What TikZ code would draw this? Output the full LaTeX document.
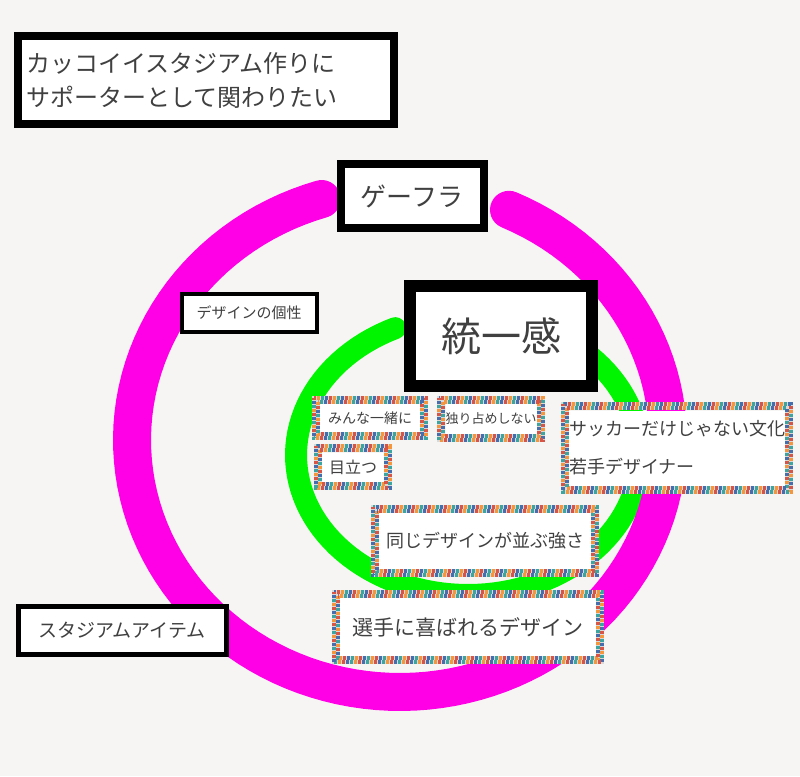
\documentclass[tikz,border=0pt]{standalone}
\usepackage{fontspec}
\setmainfont{Noto Sans CJK JP}
\begin{document}
\begin{tikzpicture}[x=1pt,y=-1pt,
  bbox/.style={draw=black,fill=white,line width=#1,inner sep=0pt,align=left,text=black!75},
  pbox/.style={fill=white,inner sep=0pt,align=left,text=black!75}]
\fill[fill={rgb,255:red,247;green,245;blue,243}] (0,0) rectangle (800,776);
\useasboundingbox (0,0) rectangle (800,776);
\newcommand\mosaic[1]{%
  \foreach \o/\ph in {2/0,6/5}{%
    \draw[line width=4,gray!30] ([xshift=-\o,yshift=\o]#1.north west) rectangle ([xshift=\o,yshift=-\o]#1.south east);
    \foreach \c/\p in {{rgb,255:red,245;green,150;blue,60}/0,{rgb,255:red,60;green,165;blue,160}/4,{rgb,255:red,70;green,110;blue,175}/8,{rgb,255:red,215;green,85;blue,70}/12}{%
      \pgfmathsetmacro\pp{\p+\ph}
      \draw[line width=4,color=\c,dash pattern=on 3pt off 13pt,dash phase=\pp pt] ([xshift=-\o,yshift=\o]#1.north west) rectangle ([xshift=\o,yshift=-\o]#1.south east);
    }}}
% rings
\draw[line width=22,line cap=round,color={rgb,255:red,0;green,245;blue,0}] plot[domain=115:405,samples=100] ({468+172*cos(\x)},{455-140*sin(\x)});
\draw[line width=38,line cap=round,color={rgb,255:red,255;green,0;blue,230}] plot[domain=107:426,samples=120] ({400+268*cos(\x)},{440-252*sin(\x)});
% black boxes
\node[bbox=8,minimum width=376,minimum height=88,text width=360,font=\fontsize{24}{34}\selectfont] (goal) at (206,80) {カッコイイスタジアム作りに\\サポーターとして関わりたい};
\node[bbox=8,minimum width=143,minimum height=64,font=\fontsize{26}{30}\selectfont] (gf) at (412,196) {ゲーフラ};
\node[bbox=12,minimum width=182,minimum height=100,font=\fontsize{40}{44}\selectfont] (tk) at (501,336) {統一感};
\node[bbox=4,minimum width=135,minimum height=38,font=\fontsize{15}{18}\selectfont] (ds) at (249,313) {デザインの個性};
\node[bbox=5,minimum width=208,minimum height=48,font=\fontsize{19}{22}\selectfont] (si) at (122,630) {スタジアムアイテム};
% mosaic boxes
\node[pbox,minimum width=100,minimum height=28,font=\fontsize{14}{16}\selectfont] (mn) at (370,418) {みんな一緒に};
\node[pbox,minimum width=90,minimum height=30,font=\fontsize{13}{16}\selectfont] (hs) at (491,419) {独り占めしない};
\node[pbox,minimum width=62,minimum height=29,font=\fontsize{16}{18}\selectfont] (md) at (353,467) {目立つ};
\node[pbox,minimum width=209,minimum height=75,font=\fontsize{18}{20}\selectfont] (sc) at (677,448) {サッカーだけじゃない文化\\[18pt]若手デザイナー};
\node[pbox,minimum width=212,minimum height=56,font=\fontsize{18}{20}\selectfont] (od) at (485,541) {同じデザインが並ぶ強さ};
\node[pbox,minimum width=256,minimum height=58,font=\fontsize{21}{24}\selectfont] (sd) at (468,627) {選手に喜ばれるデザイン};
\mosaic{mn}\mosaic{hs}\mosaic{md}\mosaic{sc}\mosaic{od}\mosaic{sd}
\end{tikzpicture}
\end{document}
